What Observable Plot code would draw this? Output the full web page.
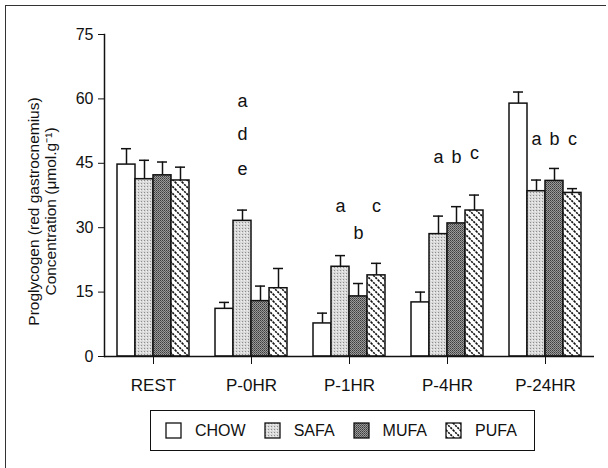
<!DOCTYPE html>
<html>
<head>
<meta charset="utf-8">
<script src="https://cdn.jsdelivr.net/npm/d3@7"></script>
<script src="https://cdn.jsdelivr.net/npm/@observablehq/plot@0.6"></script>
<style>
  html, body { margin: 0; padding: 0; background: #fff; }
  body { width: 608px; height: 468px; position: relative; overflow: hidden; font-family: "Liberation Sans", Arial, sans-serif; }
  #frame { position: absolute; left: 5px; top: 5px; width: 600px; height: 470px; border-top: 1px solid #333; border-left: 1px solid #333; pointer-events: none; }
  #chart { position: absolute; left: 0; top: 0; }
  #legend { position: absolute; left: 150px; top: 410px; width: 385px; height: 41px; border: 1.5px solid #111; box-sizing: border-box; display: flex; align-items: center; padding-left: 15px; }
  #legend .lg-swatches { margin: 0 !important; min-height: 0; display: flex; flex-wrap: nowrap !important; align-items: center; width: 365px; }
  #legend .lg-swatch { margin-right: 19px !important; font-family: "Liberation Sans", Arial, sans-serif; font-size: 16px; color: #111; display: inline-flex; align-items: center; white-space: nowrap; }
  #legend .lg-swatch > svg { margin-right: 14px !important; overflow: visible; flex-shrink: 0; }
  #legend .lg-swatch rect { stroke: #111; stroke-width: 1.3px; }
</style>
</head>
<body>
<svg width="0" height="0" style="position:absolute">
  <defs>
    <pattern id="safa" patternUnits="userSpaceOnUse" width="3" height="3">
      <rect width="3" height="3" fill="#d9d9d9"></rect>
      <rect x="0" y="0" width="1" height="1" fill="#8c8c8c"></rect>
      <rect x="2" y="1" width="1" height="1" fill="#f2f2f2"></rect>
    </pattern>
    <pattern id="mufa" patternUnits="userSpaceOnUse" width="2" height="2">
      <rect width="2" height="2" fill="#9a9a9a"></rect>
      <rect x="0" y="0" width="1" height="1" fill="#3c3c3c"></rect>
      <rect x="1" y="1" width="1" height="1" fill="#5a5a5a"></rect>
    </pattern>
    <pattern id="pufa" patternUnits="userSpaceOnUse" width="7" height="7">
      <rect width="7" height="7" fill="#fff"></rect>
      <path d="M0,0L7,7M-1,6L1,8M6,-1L8,1" stroke="#111" stroke-width="1.6" stroke-dasharray="2.2,0.9"></path>
    </pattern>
  </defs>
</svg>
<div id="chart"></div>
<div id="legend"></div>
<div id="frame"></div>
<script>
const categories = ["REST", "P-0HR", "P-1HR", "P-4HR", "P-24HR"];
const diets = ["CHOW", "SAFA", "MUFA", "PUFA"];
const dietFills = ["white", "url(#safa)", "url(#mufa)", "url(#pufa)"];

const chow = [44.7, 11.1, 7.7, 12.6, 58.9];
const safa = [41.3, 31.6, 20.9, 28.5, 38.5];
const mufa = [42.2, 12.9, 14.0, 31.0, 40.9];
const pufa = [41.0, 15.9, 18.9, 34.0, 38.1];

const chowErr = [3.7, 1.5, 2.4, 2.4, 2.7];
const safaErr = [4.4, 2.5, 2.6, 4.2, 2.6];
const mufaErr = [3.1, 3.5, 3.0, 3.9, 2.9];
const pufaErr = [3.1, 4.6, 2.8, 3.6, 1.0];

const yTicks = [0, 15, 30, 45, 60, 75];
const yTitle = "Proglycogen (red gastrocnemius)\nConcentration (μmol.g⁻¹)";

// significance letters
const letterCategory = ["P-0HR", "P-0HR", "P-0HR", "P-1HR", "P-1HR", "P-1HR", "P-4HR", "P-4HR", "P-4HR", "P-24HR", "P-24HR", "P-24HR"];
const letterDiet     = ["SAFA", "SAFA", "SAFA", "SAFA", "MUFA", "PUFA", "SAFA", "MUFA", "PUFA", "SAFA", "MUFA", "PUFA"];
const letterValue    = [59.5, 51.7, 43.7, 35.0, 28.7, 35.0, 46.5, 46.5, 47.3, 50.7, 50.7, 50.7];
const letterText     = ["a", "d", "e", "a", "b", "c", "a", "b", "c", "a", "b", "c"];

const values = [chow, safa, mufa, pufa];
const errs = [chowErr, safaErr, mufaErr, pufaErr];
const rows = categories.flatMap((c, i) => diets.map((d, j) => ({
  category: c, diet: d, value: values[j][i], upper: values[j][i] + errs[j][i]
})));
const letters = letterText.map((t, i) => ({category: letterCategory[i], diet: letterDiet[i], value: letterValue[i], text: t}));

const plot = Plot.plot({
  width: 608,
  height: 400,
  marginLeft: 104,
  marginRight: 14,
  marginTop: 34,
  marginBottom: 44,
  style: {background: "white", color: "#111", fontFamily: "'Liberation Sans Narrow', 'Liberation Sans', Arial, sans-serif"},
  fx: {domain: categories, padding: 0, label: null},
  x: {domain: diets, paddingInner: 0, paddingOuter: 0.58, axis: null},
  y: {domain: [0, 75]},
  color: {domain: diets, range: dietFills},
  marks: [
    Plot.ruleX(rows, {fx: "category", x: "diet", y1: "value", y2: "upper", stroke: "#111", strokeWidth: 1.5}),
    Plot.tickY(rows, {fx: "category", x: "diet", y: "upper", stroke: "#111", strokeWidth: 1.5, insetLeft: 4, insetRight: 4}),
    Plot.barY(rows, {fx: "category", x: "diet", y: "value", fill: "diet", stroke: "#111", strokeWidth: 1.5}),
    Plot.ruleY([0], {stroke: "#111", strokeWidth: 1.5}),
    Plot.text(letters, {fx: "category", x: "diet", y: "value", text: "text", fontSize: 18, fill: "#111", fontFamily: "'Liberation Sans', Arial, sans-serif"}),
    Plot.axisY({ticks: yTicks, tickSize: 6, tickPadding: 5, fontSize: 16, label: null}),
    Plot.text([yTitle], {text: (d) => d, frameAnchor: "left", facetAnchor: "left", textAnchor: "middle", rotate: -90, dx: -62, dy: 16,
      fontSize: 15.5, lineHeight: 1.1, fill: "#111", fontFamily: "'Liberation Sans', Arial, sans-serif"}),
    Plot.axisFx({anchor: "bottom", tickSize: 8, tickPadding: 14, fontSize: 17, label: null}),
    Plot.frame({anchor: "left", facetAnchor: "left", stroke: "#111", strokeWidth: 1.5})
  ]
});
document.getElementById("chart").appendChild(plot);

const legend = Plot.legend({
  color: {domain: diets, range: dietFills},
  swatchSize: 15,
  className: "lg"
});
document.getElementById("legend").appendChild(legend);
</script>
</body>
</html>
